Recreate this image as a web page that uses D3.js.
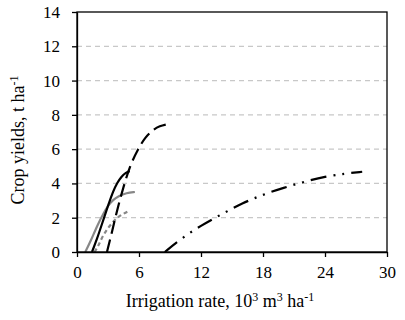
<!DOCTYPE html>
<html>
<head>
<meta charset="utf-8">
<script src="https://cdn.jsdelivr.net/npm/d3@7"></script>
<style>
  body { margin: 0; background: #fff; }
  svg text { font-family: 'Liberation Serif', 'Times New Roman', Times, serif !important; fill: #000; }
  .grid line { stroke: #c8c8c8; stroke-dasharray: 5,4; stroke-width: 1.3; }
  .axis path, .axis line { stroke: #000; stroke-width: 1.3; }
</style>
</head>
<body>
<div class="container"></div>
<script>
var xTicks = [0, 6, 12, 18, 24, 30];
var yTicks = [0, 2, 4, 6, 8, 10, 12, 14];

// irrigation rate (10^3 m3/ha) vs yield (t/ha)
var blackSolid = [[1.45,0],[1.9,0.7],[2.4,1.6],[3.0,2.7],[3.5,3.55],[3.9,4.05],[4.3,4.4],[4.7,4.62],[5.1,4.72]];
var graySolid = [[0.8,0],[1.3,0.6],[2.0,1.6],[2.6,2.3],[3.0,2.7],[3.5,3.05],[4.0,3.25],[4.8,3.45],[5.6,3.5]];
var grayDash = [[1.7,0],[2.1,0.4],[2.5,0.95],[3.0,1.4],[3.6,1.85],[4.2,2.15],[4.9,2.35]];
var blackDash = [[2.9,0],[3.4,1.2],[3.9,2.5],[4.5,3.8],[5.1,5.0],[5.9,6.0],[6.6,6.7],[7.4,7.15],[8.0,7.35],[8.7,7.45]];
var blackDashDot = [[8.5,0],[10,0.75],[12,1.55],[14,2.2],[16,2.85],[18,3.35],[20,3.75],[22,4.1],[24,4.4],[26,4.58],[27.6,4.68]];

var series = [
    {data: graySolid, stroke: '#878787', dash: null},
    {data: grayDash, stroke: '#878787', dash: '4,3'},
    {data: blackSolid, stroke: '#000', dash: null},
    {data: blackDash, stroke: '#000', dash: '13,6'},
    {data: blackDashDot, stroke: '#000', dash: '16,7,2,7,2,7'}
];

var width = 405, height = 320;
var margin = {left: 77, right: 18, top: 12, bottom: 68};
var innerW = width - margin.left - margin.right;
var innerH = height - margin.top - margin.bottom;
var serif = "'Liberation Serif', 'Times New Roman', serif";

var translate = (x, y) => `translate(${ x },${ y })`;

var x = d3.scaleLinear().domain([0, 30]).range([0, innerW]);
var y = d3.scaleLinear().domain([0, 14]).range([innerH, 0]);

var svg = d3.select('.container').append('svg')
    .attr('width', width)
    .attr('height', height)
    .attr('font-family', serif);

var g = svg.append('g').attr('transform', translate(margin.left, margin.top));

g.append('g').classed('grid', true)
    .selectAll('line')
    .data(yTicks.filter(d => d > 0 && d < 14))
    .enter().append('line')
    .attr('x1', 0).attr('x2', innerW)
    .attr('y1', y).attr('y2', y);

var line = d3.line()
    .x(d => x(d[0]))
    .y(d => y(d[1]))
    .curve(d3.curveBasis);

series.forEach(s => {
    g.append('path')
        .attr('d', line(s.data))
        .attr('fill', 'none')
        .attr('stroke', s.stroke)
        .attr('stroke-width', 2.2)
        .attr('stroke-dasharray', s.dash);
});

// frame
g.append('rect')
    .attr('width', innerW).attr('height', innerH)
    .attr('fill', 'none').attr('stroke', '#000').attr('stroke-width', 1.3);

g.append('g').classed('axis', true)
    .attr('transform', translate(0, innerH))
    .call(d3.axisBottom(x).tickValues(xTicks).tickSize(5).tickSizeOuter(0).tickPadding(9))
    .attr('font-family', serif).attr('font-size', 17);

g.append('g').classed('axis', true)
    .call(d3.axisLeft(y).tickValues(yTicks).tickSize(5).tickSizeOuter(0).tickPadding(12))
    .attr('font-family', serif).attr('font-size', 17);

var xt = svg.append('text')
    .attr('x', 220)
    .attr('y', 307)
    .attr('text-anchor', 'middle')
    .attr('font-size', 18);
xt.append('tspan').text('Irrigation rate, 10');
xt.append('tspan').attr('dy', -6).attr('font-size', 12).text('3');
xt.append('tspan').attr('dy', 6).text(' m');
xt.append('tspan').attr('dy', -6).attr('font-size', 12).text('3');
xt.append('tspan').attr('dy', 6).text(' ha');
xt.append('tspan').attr('dy', -6).attr('font-size', 12).text('-1');

var yt = svg.append('text')
    .attr('transform', translate(24, 140) + ' rotate(-90)')
    .attr('text-anchor', 'middle')
    .attr('font-size', 18);
yt.append('tspan').text('Crop yields, t ha');
yt.append('tspan').attr('dy', -6).attr('font-size', 12).text('-1');
</script>
</body>
</html>
